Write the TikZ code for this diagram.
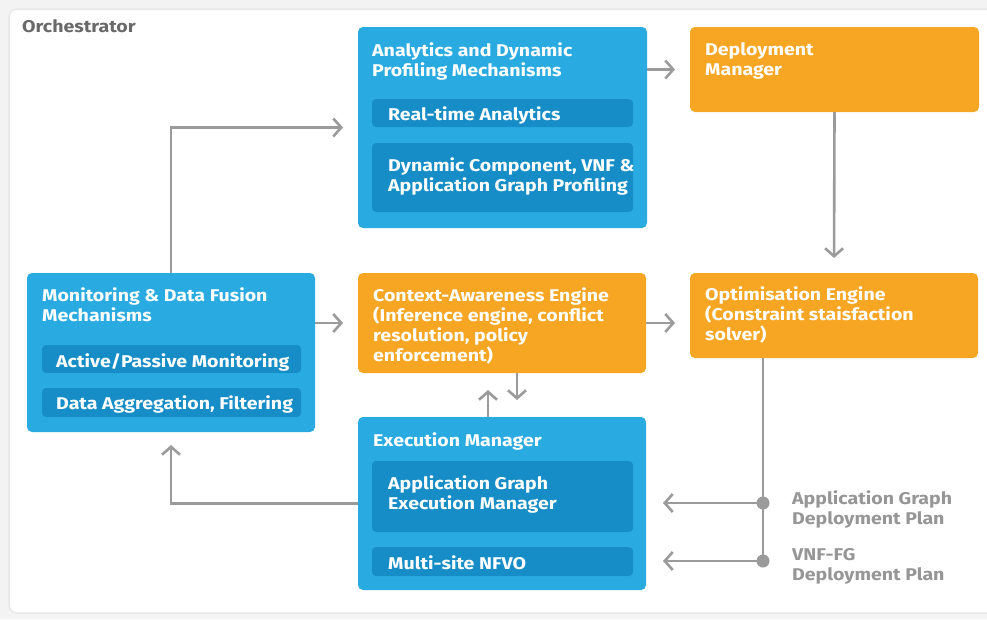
\documentclass[tikz,border=0pt]{standalone}
\usepackage{fontspec}
\setmainfont{Fira Sans}[FakeStretch=1.15]
\usetikzlibrary{arrows.meta,calc}
\definecolor{cBg}{RGB}{243,243,243}
\definecolor{cEdge}{RGB}{232,232,232}
\definecolor{cBlue}{RGB}{41,171,226}
\definecolor{cBlueIn}{RGB}{22,141,198}
\definecolor{cOrange}{RGB}{247,166,35}
\definecolor{cLine}{RGB}{155,155,155}
\definecolor{cLabel}{RGB}{150,150,150}
\definecolor{cHead}{RGB}{105,105,105}
\begin{document}
\begin{tikzpicture}[x=1pt,y=-1pt,
  panelbox/.style={anchor=north west, inner sep=0pt, outer sep=0pt, rounded corners=5pt},
  bluebox/.style={panelbox, fill=cBlue},
  orangebox/.style={panelbox, fill=cOrange},
  subbox/.style={panelbox, fill=cBlueIn, rounded corners=4pt, minimum width=261},
  ttl/.style={anchor=north west, inner sep=0pt, align=left, text=white,
    font=\bfseries\fontsize{17}{20}\selectfont},
  lbl/.style={ttl, text=cLabel},
  conn/.style={draw=cLine, line width=2.6pt},
  arr/.style={conn, -{Straight Barb[length=8pt,width=18pt]}, shorten >=15pt},
]
\useasboundingbox (0,0) rectangle (987,619);
% page and orchestrator panel
\fill[cBg] (0,0) rectangle (987,619);
\draw[cEdge, fill=white, line width=1.5pt, rounded corners=8pt] (9,9) rectangle (1010,613);
\node[ttl, text=cHead] (orch) at (22,19.7) {Orchestrator};

% analytics block
\node[bluebox, minimum width=289, minimum height=201] (ana) at (358,27) {};
\node[ttl] (anaT) at (372,42.7) {Analytics and Dynamic\\Profiling Mechanisms};
\node[subbox, minimum height=28] (rta) at (372,99) {};
\node[ttl] (rtaT) at (388,106.7) {Real-time Analytics};
\node[subbox, minimum height=69] (dyn) at (372,143) {};
\node[ttl] (dynT) at (388,157.7) {Dynamic Component, VNF \&\\Application Graph Profiling};

% deployment manager
\node[orangebox, minimum width=289, minimum height=85] (dep) at (690,27) {};
\node[ttl] (depT) at (705,42.7) {Deployment\\Manager};

% monitoring block
\node[bluebox, minimum width=288, minimum height=159] (mon) at (27,273) {};
\node[ttl] (monT) at (42,287.7) {Monitoring \& Data Fusion\\Mechanisms};
\node[subbox, minimum width=259, minimum height=28] (act) at (42,345) {};
\node[ttl] (actT) at (56,353.7) {Active/Passive Monitoring};
\node[subbox, minimum width=259, minimum height=29] (agg) at (42,388) {};
\node[ttl] (aggT) at (56,395.7) {Data Aggregation, Filtering};

% context-awareness engine
\node[orangebox, minimum width=288, minimum height=100] (ctx) at (358,273) {};
\node[ttl] (ctxT) at (373,287.7) {Context-Awareness Engine\\(Inference engine, conflict\\resolution, policy\\enforcement)};

% optimisation engine
\node[orangebox, minimum width=288, minimum height=85] (opt) at (690,273) {};
\node[ttl] (optT) at (705,286.7) {Optimisation Engine\\(Constraint staisfaction\\solver)};

% execution manager
\node[bluebox, minimum width=288, minimum height=173] (exe) at (358,417) {};
\node[ttl] (exeT) at (373,432.7) {Execution Manager};
\node[subbox, minimum height=71] (agm) at (372,461) {};
\node[ttl] (agmT) at (388,475.7) {Application Graph\\Execution Manager};
\node[subbox, minimum height=29] (nfvo) at (372,547) {};
\node[ttl] (nfvoT) at (388,555.7) {Multi-site NFVO};

% connectors
\draw[arr] (mon.north) |- (ana.west);
\draw[arr] (ana.east |- dep.west) -- (dep.west);
\draw[arr] (dep.south) -- (opt.north);
\draw[arr] (mon.east |- ctx.west) -- (ctx.west);
\draw[arr] (ctx.east) -- (opt.west |- ctx.east);
\draw[arr, shorten >=17pt] ($(ctx.south)+(15,0)$) -- ($(exe.north)+(15,0)$);
\draw[arr, shorten >=17pt] ($(exe.north)+(-14,0)$) -- ($(ctx.south)+(-14,0)$);
\draw[arr, shorten >=13pt] (exe.west) -| (mon.south);

% deployment plans
\coordinate (tap) at ($(opt.south west)+(73,0)$);
\coordinate (d1) at (763,503);
\coordinate (d2) at (763,561);
\draw[conn] (tap) -- (d2);
\draw[arr, shorten >=17pt] (d1) -- (exe.east |- d1);
\draw[arr, shorten >=17pt] (d2) -- (exe.east |- d2);
\fill[cLine] (d1) circle (6.5);
\fill[cLine] (d2) circle (6.5);
\node[lbl] (p1) at (792,490.7) {Application Graph\\Deployment Plan};
\node[lbl] (p2) at (792,548.7) {VNF-FG\\Deployment Plan};
\end{tikzpicture}
\end{document}
